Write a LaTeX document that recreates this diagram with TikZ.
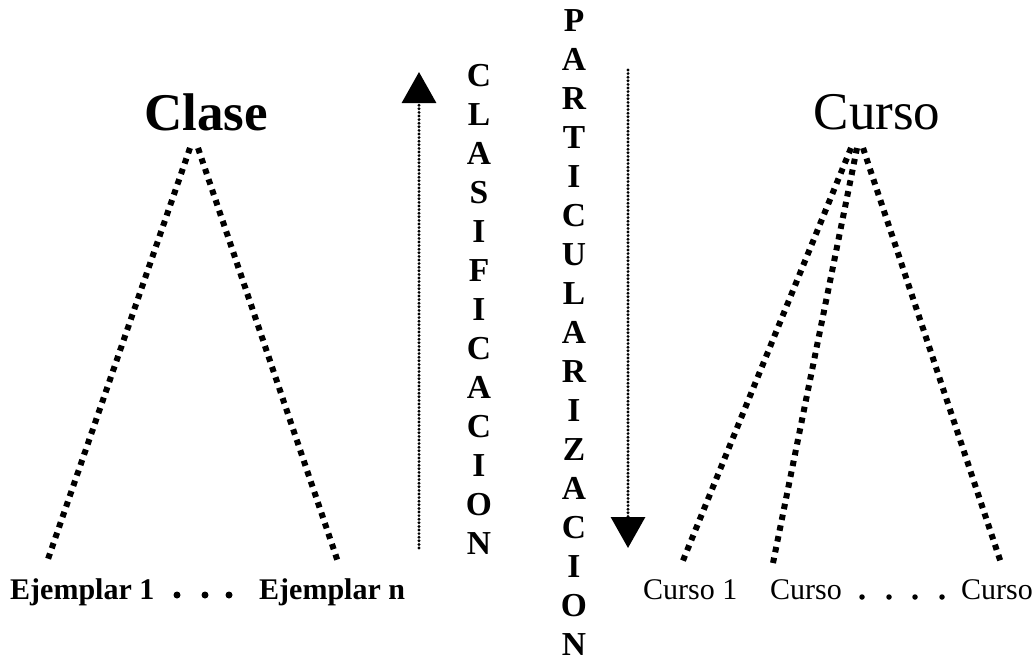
\documentclass[tikz,border=0pt]{standalone}
\usepackage{fontspec}
\setmainfont{Liberation Serif}
\usetikzlibrary{arrows.meta}
\begin{document}
\begin{tikzpicture}[x=1pt,y=-1pt,
 tree/.style={line width=6pt, dash pattern=on 5.5pt off 5.5pt},
 flow/.style={line width=3.2pt, line cap=round, dash pattern=on 0pt off 3.6pt, -{Triangle[width=34pt,length=31pt]}},
 title/.style={font=\fontsize{53}{60}\selectfont, inner sep=0pt, anchor=base},
 leaf/.style={font=\fontsize{30}{34}\selectfont, inner sep=0pt, anchor=base west},
 vword/.style={font=\bfseries\fontsize{33.5}{39}\selectfont, align=center, inner sep=0pt},
 bigdot/.style={circle, fill, inner sep=0pt, minimum size=7pt},
 smalldot/.style={circle, fill, inner sep=0pt, minimum size=5.5pt}
]
\useasboundingbox (0,0) rectangle (1036,661);

% titles
\node[title, font=\bfseries\fontsize{53}{60}\selectfont] (clase) at (206,130) {Clase};
\node[title] (curso) at (877,129) {Curso};

% leaves
\node[leaf, font=\bfseries\fontsize{30}{34}\selectfont] (ej1) at (10,599) {Ejemplar 1};
\node[leaf, font=\bfseries\fontsize{30}{34}\selectfont] (ejn) at (259,599) {Ejemplar n};
\node[leaf] (c1) at (643,599) {Curso 1};
\node[leaf] (c2) at (770,599) {Curso};
\node[leaf] (c3) at (961,599) {Curso};

% ellipsis dots
\node[bigdot] (d1) at (177,595) {};
\node[bigdot] (d2) at (205,595) {};
\node[bigdot] (d3) at (229,595) {};
\node[smalldot] (e1) at (862,597) {};
\node[smalldot] (e2) at (889,597) {};
\node[smalldot] (e3) at (915,597) {};
\node[smalldot] (e4) at (942,597) {};

% tree coordinates
\coordinate (clA) at (190,148);
\coordinate (clB) at (198,148);
\coordinate (ej1t) at (47,562);
\coordinate (ejnt) at (338,562);
\coordinate (cuA) at (851,148);
\coordinate (cuB) at (857,148);
\coordinate (cuC) at (863,148);
\coordinate (c1t) at (682,563);
\coordinate (c2t) at (773,563);
\coordinate (c3t) at (1001,563);

\draw[tree] (clA) -- (ej1t);
\draw[tree] (clB) -- (ejnt);
\draw[tree] (cuA) -- (c1t);
\draw[tree] (cuB) -- (c2t);
\draw[tree] (cuC) -- (c3t);

% flow arrows
\coordinate (upS) at (419,548);
\coordinate (upE) at (419,72);
\coordinate (dnS) at (628,70);
\coordinate (dnE) at (628,548);
\draw[flow] (upS) -- (upE);
\draw[flow] (dnS) -- (dnE);

% vertical words
\node[vword] (clasif) at (479,309) {C\\L\\A\\S\\I\\F\\I\\C\\A\\C\\I\\O\\N};
\node[vword] (partic) at (574,333) {P\\A\\R\\T\\I\\C\\U\\L\\A\\R\\I\\Z\\A\\C\\I\\O\\N};
\end{tikzpicture}
\end{document}
